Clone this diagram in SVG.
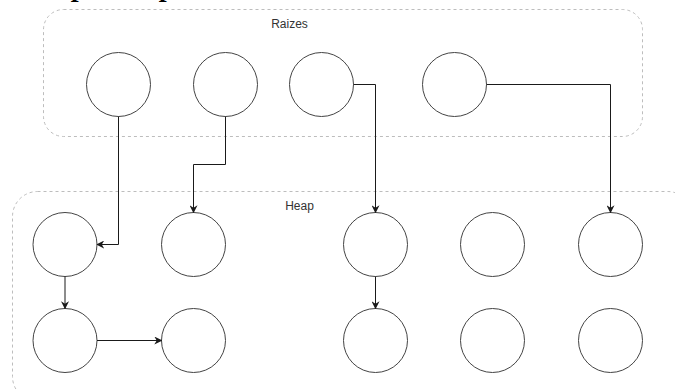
<svg xmlns="http://www.w3.org/2000/svg" width="675" height="390" viewBox="0 0 675 390">
  <style>
    .group { fill: none; stroke: #bdbdbd; stroke-width: 1; stroke-dasharray: 3 3; }
    .label { font-family: "Liberation Sans", Arial, sans-serif; font-size: 12px; fill: #333333; text-anchor: middle; }
    .clip-text { font-family: "Liberation Serif", "Times New Roman", serif; font-style: italic; font-weight: bold; font-size: 28px; fill: #000; }
    .node { fill: #ffffff; stroke: #444; stroke-width: 1; }
    .edge { fill: none; stroke: #1a1a1a; stroke-width: 1; }
  </style>
  <defs>
    <marker id="arrow" viewBox="0 0 10 10" refX="9" refY="5" markerWidth="8" markerHeight="8" markerUnits="userSpaceOnUse" orient="auto">
      <path d="M0,0 L10,5 L0,10 L3,5 Z" fill="#1a1a1a"/>
    </marker>
  </defs>

  <rect width="675" height="390" fill="#ffffff"/>

  <!-- heading text running off the top edge -->
  <text class="clip-text" x="73" y="-4">p</text>
  <text class="clip-text" x="161" y="-4">p</text>

  <!-- containers -->
  <g id="raizes">
    <rect class="group" x="43.5" y="9.5" width="599" height="127" rx="20" ry="20"/>
    <text class="label" x="289.5" y="28">Raizes</text>
  </g>
  <g id="heap">
    <rect class="group" x="12.5" y="191.5" width="680" height="210" rx="25" ry="25"/>
    <text class="label" x="299.5" y="210">Heap</text>
  </g>

  <!-- root nodes -->
  <g id="r1"><circle class="node" cx="118.5" cy="84.5" r="32"/></g>
  <g id="r2"><circle class="node" cx="225.5" cy="84.5" r="32"/></g>
  <g id="r3"><circle class="node" cx="321.5" cy="84.5" r="32"/></g>
  <g id="r4"><circle class="node" cx="454.5" cy="84.5" r="32"/></g>

  <!-- heap nodes -->
  <g id="h1"><circle class="node" cx="65" cy="244.5" r="32"/></g>
  <g id="h2"><circle class="node" cx="193.5" cy="244.5" r="32"/></g>
  <g id="h3"><circle class="node" cx="375.5" cy="244.5" r="32"/></g>
  <g id="h4"><circle class="node" cx="492.5" cy="244.5" r="32"/></g>
  <g id="h5"><circle class="node" cx="610.5" cy="244.5" r="32"/></g>
  <g id="h6"><circle class="node" cx="65" cy="340.5" r="32"/></g>
  <g id="h7"><circle class="node" cx="193.5" cy="340.5" r="32"/></g>
  <g id="h8"><circle class="node" cx="375.5" cy="340.5" r="32"/></g>
  <g id="h9"><circle class="node" cx="492.5" cy="340.5" r="32"/></g>
  <g id="h10"><circle class="node" cx="610.5" cy="340.5" r="32"/></g>

  <!-- connectors -->
  <g id="edges">
    <path class="edge" d="M118.5,116.5 V244.5 H97" marker-end="url(#arrow)"/>
    <path class="edge" d="M225.5,116.5 V164.5 H193.5 V212.5" marker-end="url(#arrow)"/>
    <path class="edge" d="M353.5,84.5 H375.5 V212.5" marker-end="url(#arrow)"/>
    <path class="edge" d="M486.5,84.5 H610.5 V212.5" marker-end="url(#arrow)"/>
    <path class="edge" d="M65,276.5 V308.5" marker-end="url(#arrow)"/>
    <path class="edge" d="M97,340.5 H161.5" marker-end="url(#arrow)"/>
    <path class="edge" d="M375.5,276.5 V308.5" marker-end="url(#arrow)"/>
  </g>
</svg>
